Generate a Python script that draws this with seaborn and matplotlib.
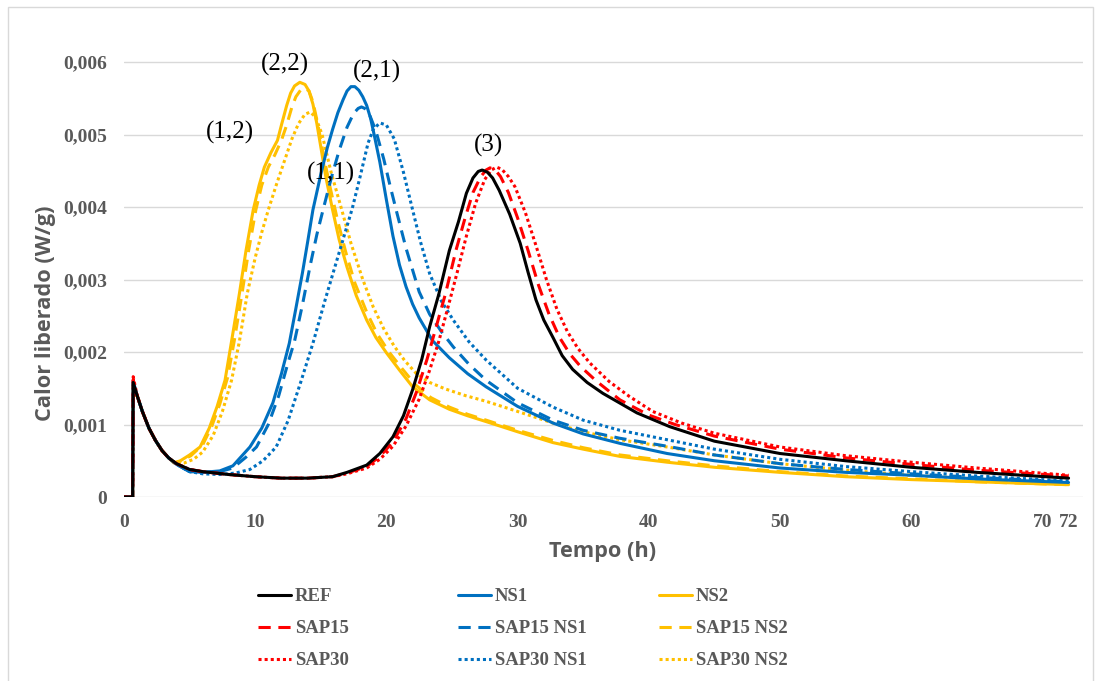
import matplotlib
matplotlib.use("Agg")
import matplotlib.pyplot as plt
from matplotlib.lines import Line2D
from matplotlib.patches import Rectangle
import seaborn as sns
import pandas as pd

# ---------------- data (hours, W/g) ----------------
decay_h = [0.0, 0.66, 0.7, 1.0, 1.4, 1.9, 2.4, 2.9, 3.4]
decay_v = [0.0, 0.0, None, 0.00140, 0.00118, 0.00095, 0.00078, 0.00064, 0.00054]

ref_h = [4.0, 5.0, 6.0, 8.0, 10.0, 12.0, 14.0, 15.9, 17.0, 18.5, 19.5, 20.5, 21.3, 22.0, 22.7,
         23.3, 24.0, 24.8, 25.5, 26.1, 26.6, 27.0, 27.3, 27.7, 28.1, 28.6, 29.4, 30.2, 30.8,
         31.4, 32.0, 32.7, 33.4, 34.2, 35.3, 36.5, 39.1, 41.6, 45.0, 50.0, 55.0, 60.0, 65.0,
         72.0]
ref_v = [0.00046, 0.00038, 0.00035, 0.00031, 0.00028, 0.00026, 0.00026, 0.00028, 0.00034,
         0.00044, 0.00060, 0.00083, 0.00112, 0.00148, 0.00190, 0.00235, 0.00280, 0.00340,
         0.00380, 0.00419, 0.00440, 0.00449, 0.00451, 0.00448, 0.00440, 0.00423, 0.00390,
         0.00350, 0.00310, 0.00272, 0.00244, 0.00220, 0.00195, 0.00176, 0.00158, 0.00143,
         0.00116, 0.00097, 0.00077, 0.00060, 0.00050, 0.00041, 0.00034, 0.00026]

sap15_h = [4.0, 5.0, 6.0, 8.0, 10.0, 12.0, 14.0, 15.9, 17.0, 18.5, 19.5, 20.5, 21.5, 22.3,
           23.1, 23.8, 24.5, 25.3, 26.0, 26.6, 27.2, 27.6, 27.9, 28.3, 28.7, 29.3, 30.0,
           30.8, 31.6, 32.4, 33.2, 34.0, 34.8, 36.0, 37.8, 40.0, 42.0, 45.0, 50.0, 55.0,
           60.0, 65.0, 72.0]
sap15_v = [0.00046, 0.00038, 0.00035, 0.00031, 0.00028, 0.00026, 0.00026, 0.00028, 0.00033,
           0.00042, 0.00056, 0.00076, 0.00108, 0.00145, 0.00190, 0.00235, 0.00280, 0.00340,
           0.00385, 0.00420, 0.00442, 0.00451, 0.00454, 0.00451, 0.00442, 0.00420, 0.00385,
           0.00340, 0.00292, 0.00252, 0.00220, 0.00197, 0.00180, 0.00160, 0.00134, 0.00113,
           0.00100, 0.00084, 0.00066, 0.00054, 0.00045, 0.00037, 0.00029]

sap30_h = [4.0, 5.0, 6.0, 8.0, 10.0, 12.0, 14.0, 15.9, 17.0, 18.5, 19.5, 20.5, 21.5, 22.5,
           23.3, 24.0, 24.7, 25.4, 26.1, 26.8, 27.5, 28.0, 28.4, 28.8, 29.3, 29.8, 30.6,
           31.4, 32.2, 33.0, 33.8, 34.6, 35.5, 37.0, 38.5, 40.3, 42.5, 45.0, 50.0, 55.0,
           60.0, 65.0, 72.0]
sap30_v = [0.00046, 0.00038, 0.00035, 0.00031, 0.00028, 0.00026, 0.00026, 0.00028, 0.00032,
           0.00040, 0.00052, 0.00070, 0.00098, 0.00135, 0.00175, 0.00215, 0.00262, 0.00310,
           0.00360, 0.00405, 0.00438, 0.00451, 0.00455, 0.00452, 0.00442, 0.00428, 0.00392,
           0.00347, 0.00300, 0.00259, 0.00228, 0.00205, 0.00185, 0.00159, 0.00139, 0.00118,
           0.00102, 0.00088, 0.00069, 0.00057, 0.00048, 0.00040, 0.00030]

ns1_h = [4.0, 4.5, 5.0, 6.0, 7.3, 8.3, 9.6, 10.5, 11.35, 12.0, 12.6, 13.1, 13.6, 14.0, 14.4,
         15.0, 15.5, 15.9, 16.3, 16.7, 17.0, 17.3, 17.6, 17.9, 18.2, 18.5, 18.8, 19.1, 19.5,
         20.0, 20.5, 21.0, 21.5, 22.0, 22.5, 23.5, 24.8, 26.2, 27.6, 30.0, 32.7, 35.0, 37.8,
         41.4, 45.0, 50.0, 55.0, 60.0, 65.0, 72.0]
ns1_v = [0.00045, 0.00040, 0.00035, 0.00034, 0.00036, 0.00043, 0.00069, 0.00095, 0.00130,
         0.00170, 0.00212, 0.00260, 0.00309, 0.00352, 0.00396, 0.00445, 0.00482, 0.00507,
         0.00530, 0.00548, 0.00560, 0.00566, 0.00566, 0.00561, 0.00552, 0.00540, 0.00522,
         0.00497, 0.00462, 0.00410, 0.00360, 0.00320, 0.00290, 0.00266, 0.00247, 0.00216,
         0.00192, 0.00170, 0.00152, 0.00125, 0.00102, 0.00087, 0.00074, 0.00060, 0.00050,
         0.00040, 0.00034, 0.00030, 0.00025, 0.00020]

sap15ns1_h = [4.0, 4.5, 5.0, 6.0, 7.3, 8.3, 9.3, 10.1, 11.0, 11.8, 12.5, 13.0, 13.6, 14.2,
              14.7, 15.2, 15.8, 16.4, 17.0, 17.5, 17.85, 18.1, 18.35, 18.7, 19.2, 19.8,
              20.3, 20.8, 21.5, 22.5, 23.3, 24.2, 25.1, 26.3, 27.6, 30.0, 32.7, 35.0, 37.8,
              41.4, 45.0, 50.0, 55.0, 60.0, 65.0, 72.0]
sap15ns1_v = [0.00045, 0.00040, 0.00035, 0.00034, 0.00035, 0.00040, 0.00055, 0.00069,
              0.00100, 0.00140, 0.00185, 0.00215, 0.00265, 0.00320, 0.00362, 0.00398,
              0.00440, 0.00478, 0.00510, 0.00529, 0.00536, 0.00538, 0.00536, 0.00528,
              0.00505, 0.00466, 0.00428, 0.00392, 0.00343, 0.00283, 0.00252, 0.00228,
              0.00207, 0.00183, 0.00161, 0.00130, 0.00106, 0.00092, 0.00081, 0.00070,
              0.00058, 0.00046, 0.00038, 0.00032, 0.00027, 0.00021]

sap30ns1_h = [4.0, 4.5, 5.0, 6.0, 7.3, 8.5, 9.6, 10.6, 11.6, 12.5, 13.5, 14.4, 15.3, 16.2,
              17.4, 18.0, 18.6, 19.0, 19.5, 20.0, 20.6, 21.3, 22.0, 22.6, 23.3, 24.2, 25.1,
              26.3, 27.6, 30.0, 32.7, 35.0, 37.8, 41.4, 45.0, 50.0, 55.0, 60.0, 65.0, 72.0]
sap30ns1_v = [0.00045, 0.00040, 0.00035, 0.00032, 0.00031, 0.00033, 0.00038, 0.00050,
              0.00069, 0.00105, 0.00160, 0.00212, 0.00270, 0.00325, 0.00398, 0.00442,
              0.00488, 0.00507, 0.00516, 0.00513, 0.00494, 0.00448, 0.00396, 0.00352,
              0.00308, 0.00270, 0.00244, 0.00214, 0.00189, 0.00150, 0.00124, 0.00106,
              0.00092, 0.00079, 0.00066, 0.00052, 0.00042, 0.00035, 0.00029, 0.00022]

ns2_h = [3.8, 4.3, 5.0, 5.8, 6.5, 7.1, 7.7, 8.2, 8.8, 9.3, 9.85, 10.3, 10.7, 11.2, 11.7, 12.0,
         12.4, 12.7, 13.0, 13.4, 13.8, 14.1, 14.4, 14.7, 15.0, 15.4, 15.9, 16.4, 17.0, 17.7,
         18.5, 19.2, 20.0, 21.0, 22.0, 23.3, 24.8, 26.2, 27.6, 30.0, 32.7, 35.0, 37.8, 41.4,
         45.0, 50.0, 55.0, 60.0, 65.0, 72.0]
ns2_v = [0.00047, 0.00050, 0.00058, 0.00069, 0.00095, 0.00125, 0.00161, 0.00215, 0.00281,
         0.00340, 0.00396, 0.00430, 0.00455, 0.00475, 0.00492, 0.00513, 0.00540, 0.00557,
         0.00567, 0.00572, 0.00569, 0.00560, 0.00542, 0.00515, 0.00483, 0.00440, 0.00396,
         0.00355, 0.00317, 0.00278, 0.00244, 0.00220, 0.00199, 0.00175, 0.00152, 0.00134,
         0.00121, 0.00112, 0.00104, 0.00090, 0.00075, 0.00066, 0.00056, 0.00048, 0.00041,
         0.00034, 0.00028, 0.00024, 0.00021, 0.00017]

sap15ns2_h = [3.9, 4.4, 5.1, 6.0, 6.7, 7.3, 7.9, 8.4, 9.0, 9.5, 10.05, 10.5, 11.0, 11.5, 12.0,
              12.4, 12.8, 13.1, 13.45, 13.8, 14.1, 14.4, 14.8, 15.2, 15.7, 16.3, 16.9, 17.6,
              18.5, 19.3, 20.2, 21.2, 22.2, 23.4, 24.8, 26.2, 27.6, 30.0, 32.7, 35.0, 37.8,
              41.4, 45.0, 50.0, 55.0, 60.0, 65.0, 72.0]
sap15ns2_v = [0.00047, 0.00050, 0.00057, 0.00072, 0.00098, 0.00128, 0.00165, 0.00215,
              0.00281, 0.00340, 0.00396, 0.00430, 0.00455, 0.00472, 0.00492, 0.00513,
              0.00538, 0.00552, 0.00561, 0.00564, 0.00560, 0.00545, 0.00512, 0.00472,
              0.00428, 0.00380, 0.00338, 0.00295, 0.00255, 0.00225, 0.00200, 0.00177,
              0.00155, 0.00137, 0.00124, 0.00114, 0.00106, 0.00092, 0.00078, 0.00068,
              0.00058, 0.00050, 0.00043, 0.00035, 0.00029, 0.00025, 0.00021, 0.00017]

sap30ns2_h = [4.0, 4.6, 5.3, 6.0, 6.8, 7.5, 8.2, 8.8, 9.4, 10.0, 10.5, 11.0, 11.6, 12.2, 12.8,
              13.3, 13.8, 14.2, 14.6, 15.1, 15.8, 16.6, 17.3, 18.2, 19.0, 19.8, 20.6, 21.4,
              22.3, 23.3, 24.5, 26.0, 27.6, 30.0, 32.7, 35.0, 37.8, 41.4, 45.0, 50.0, 55.0,
              60.0, 65.0, 72.0]
sap30ns2_v = [0.00046, 0.00047, 0.00052, 0.00062, 0.00085, 0.00118, 0.00161, 0.00215,
              0.00281, 0.00330, 0.00365, 0.00396, 0.00430, 0.00462, 0.00494, 0.00515,
              0.00528, 0.00531, 0.00524, 0.00500, 0.00447, 0.00396, 0.00350, 0.00300,
              0.00262, 0.00232, 0.00208, 0.00188, 0.00170, 0.00158, 0.00149, 0.00140,
              0.00132, 0.00118, 0.00102, 0.00090, 0.00079, 0.00069, 0.00058, 0.00046,
              0.00037, 0.00030, 0.00025, 0.00019]

spikes = {"REF": 0.00158, "SAP15": 0.00162, "SAP30": 0.00166,
          "NS1": 0.00160, "SAP15 NS1": 0.00155, "SAP30 NS1": 0.00150,
          "NS2": 0.00155, "SAP15 NS2": 0.00150, "SAP30 NS2": 0.00140}

series_names = ["REF", "SAP15", "SAP30", "NS1", "SAP15 NS1", "SAP30 NS1",
                "NS2", "SAP15 NS2", "SAP30 NS2"]
series_data = {
    "REF": (ref_h, ref_v), "SAP15": (sap15_h, sap15_v), "SAP30": (sap30_h, sap30_v),
    "NS1": (ns1_h, ns1_v), "SAP15 NS1": (sap15ns1_h, sap15ns1_v),
    "SAP30 NS1": (sap30ns1_h, sap30ns1_v),
    "NS2": (ns2_h, ns2_v), "SAP15 NS2": (sap15ns2_h, sap15ns2_v),
    "SAP30 NS2": (sap30ns2_h, sap30ns2_v),
}

x_ticks = [0, 10, 20, 30, 40, 50, 60, 70, 72]
y_ticks = [0, 0.001, 0.002, 0.003, 0.004, 0.005, 0.006]
y_tick_labels = ["0", "0,001", "0,002", "0,003", "0,004", "0,005", "0,006"]

annotations = [("(2,2)", 12.3, 0.00597), ("(2,1)", 19.3, 0.00587),
               ("(1,2)", 8.1, 0.00503), ("(1,1)", 15.8, 0.00446), ("(3)", 27.8, 0.00485)]

# ---------------- styles ----------------
BLACK, BLUE, YELLOW, RED = "#000000", "#0070C0", "#FFC000", "#FF0000"
colors = {"REF": BLACK, "SAP15": RED, "SAP30": RED,
          "NS1": BLUE, "SAP15 NS1": BLUE, "SAP30 NS1": BLUE,
          "NS2": YELLOW, "SAP15 NS2": YELLOW, "SAP30 NS2": YELLOW}
DASH = (0, (4, 2.5))
DOT = (0, (1, 1))
styles = {"REF": "-", "SAP15": DASH, "SAP30": DOT,
          "NS1": "-", "SAP15 NS1": DASH, "SAP30 NS1": DOT,
          "NS2": "-", "SAP15 NS2": DASH, "SAP30 NS2": DOT}
LW = 2.2
GREY = "#595959"

sns.set_theme(style="white")
plt.rcParams["font.family"] = ["DejaVu Sans"]

fig = plt.figure(figsize=(11.01, 6.81), dpi=100)
ax = fig.add_axes([124 / 1101, 1 - 497 / 681, (1083 - 124) / 1101, 449.5 / 681])

draw_order = ["SAP30 NS2", "SAP15 NS2", "NS2", "SAP30 NS1", "SAP15 NS1", "NS1",
              "SAP30", "SAP15", "REF"]
for name in draw_order:
    h_tail, v_tail = series_data[name]
    dv = list(decay_v)
    dv[2] = spikes[name]
    df = pd.DataFrame({"h": decay_h + h_tail, "v": dv + v_tail})
    sns.lineplot(data=df, x="h", y="v", ax=ax, color=colors[name], linestyle=styles[name],
                 linewidth=LW, estimator=None, sort=False, legend=False)

ax.set_xlim(0, 73.1)
ax.set_ylim(0, 0.0062)
ax.set_xticks(x_ticks)
ax.set_xticklabels([str(t) for t in x_ticks])
ax.set_yticks(y_ticks)
ax.set_yticklabels(y_tick_labels)
ax.grid(axis="y", color="#D9D9D9", linewidth=1.0)
ax.grid(axis="x", visible=False)
for s in ax.spines.values():
    s.set_visible(False)
ax.tick_params(axis="both", length=0, colors=GREY)
ax.tick_params(axis="y", pad=12)
ax.tick_params(axis="x", pad=12)
for lab in ax.get_xticklabels() + ax.get_yticklabels():
    lab.set_fontfamily("Liberation Serif")
    lab.set_fontweight("bold")
    lab.set_fontsize(14)
ax.set_xlabel("")
ax.set_ylabel("")

fig.text(603 / 1101, 1 - 551 / 681, "Tempo (h)", ha="center", va="center",
         fontsize=15.7, fontweight="bold", color=GREY, family="Open Sans")
fig.text(46 / 1101, 1 - 313 / 681, "Calor liberado (W/g)", ha="center", va="center",
         rotation=90, fontsize=15.7, fontweight="bold", color=GREY, family="Open Sans")

for txt, hx, vy in annotations:
    ax.text(hx, vy, txt, ha="center", va="center", fontsize=18,
            family="Liberation Serif", color="black", clip_on=False)

# legends: three equally spaced columns
col_x = [258, 458, 659]
for ci in range(3):
    names = series_names[ci * 3:(ci + 1) * 3]
    handles = [Line2D([], [], color=colors[n], linestyle=styles[n], linewidth=LW)
               for n in names]
    leg = fig.legend(handles, names, loc="upper left",
                     bbox_to_anchor=(col_x[ci] / 1101, 1 - 588 / 681),
                     frameon=False, borderpad=0, handlelength=1.75, handletextpad=0.2,
                     labelspacing=0.8, borderaxespad=0,
                     prop={"family": "Liberation Serif", "weight": "bold", "size": 13.5})
    for t in leg.get_texts():
        t.set_color(GREY)

fig.patches.append(Rectangle((8 / 1101, -0.05), (1093 - 8) / 1101, 1.05 - 7 / 681,
                             transform=fig.transFigure, fill=False,
                             edgecolor="#D9D9D9", linewidth=1.0))

fig.savefig("out.png", dpi=100)
